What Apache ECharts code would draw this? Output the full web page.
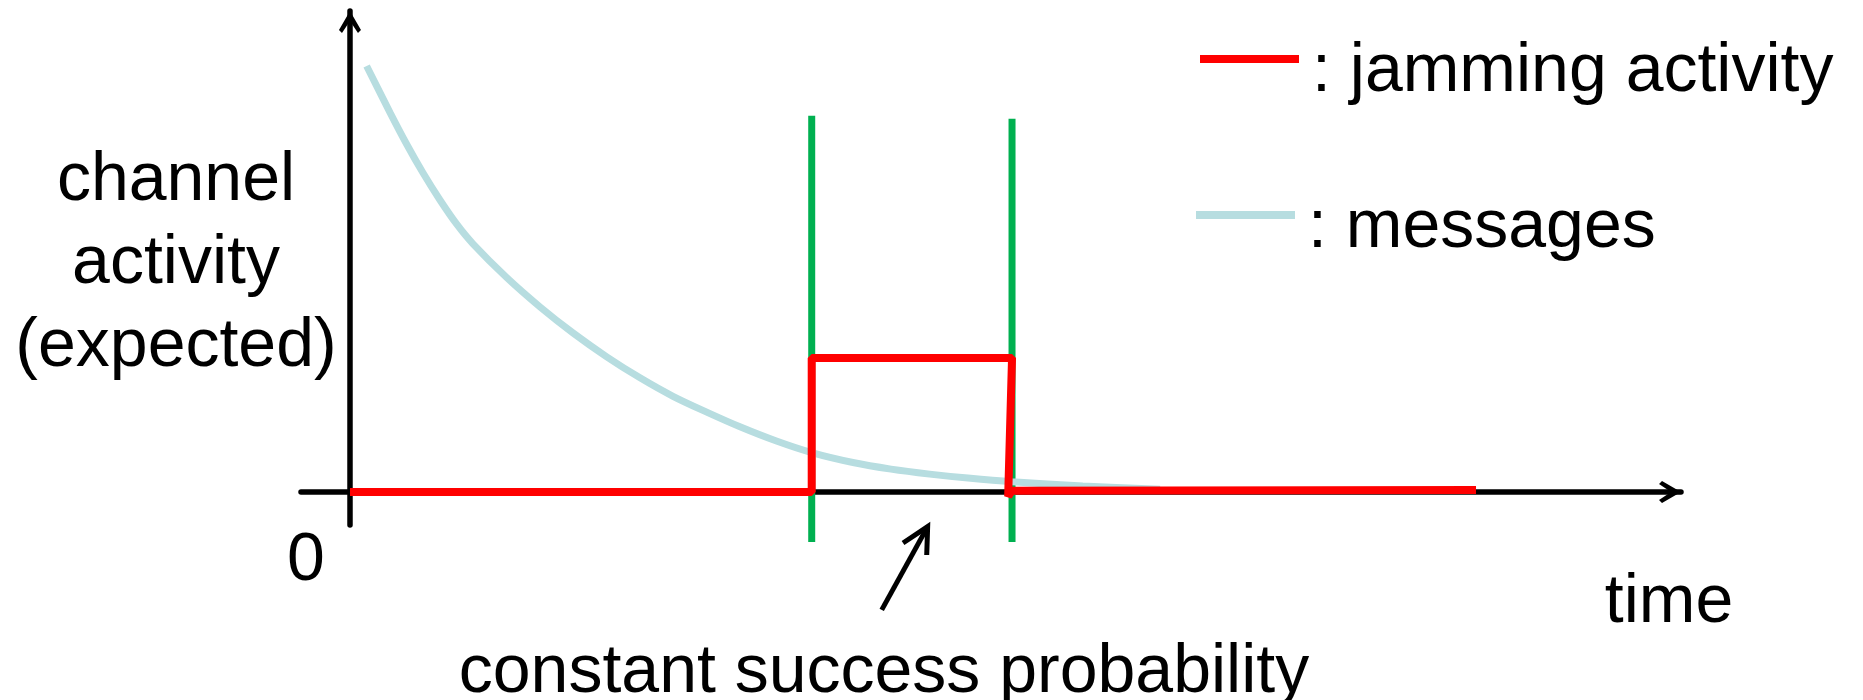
<!DOCTYPE html>
<html>
<head>
<meta charset="utf-8">
<script src="https://cdn.jsdelivr.net/npm/echarts@6/dist/echarts.min.js"></script>
<style>
html,body{margin:0;padding:0;background:#fff;}
#chart{width:1863px;height:700px;}
</style>
</head>
<body>
<div id="chart"></div>
<script>
// ---- data (time units, activity units) ----
const messagesData = [
  [1.25, 88.57], [3.01, 78.88], [4.26, 72.29], [5.48, 66.36], [6.76, 60.71], [8.02, 55.68],
  [9.24, 51.60], [11.77, 44.59], [14.27, 38.50], [16.75, 33.08], [19.29, 28.11], [21.79, 23.74],
  [24.27, 19.90], [26.80, 16.61], [29.30, 13.56], [32.04, 10.60], [34.69, 8.19], [37.79, 6.13],
  [40.65, 4.76], [43.55, 3.72], [46.43, 2.89], [49.74, 2.12], [55.05, 1.25], [60.86, 0.58]
];
const jammingData = [
  [0, 0], [34.69, 0], [34.69, 27.86], [49.74, 27.86], [49.45, -0.9], [49.74, 0.25], [84.6, 0.42]
];
const windowStart = [[34.69, -10.4], [34.69, 78.2]];
const windowEnd = [[49.74, -10.4], [49.74, 77.6]];
const pointerShaft = [[39.95, -24.5], [43.40, -7.2]];
const pointerHead = [[41.55, -10.6], [43.40, -7.2], [43.33, -13.1]];

const yLabelLines = ['channel', 'activity', '(expected)'];
const originLabel = '0';
const xLabel = 'time';
const annotation = 'constant success probability';
const legendNames = ['jamming activity', 'messages'];

const FONT = "'Liberation Sans', Arial, sans-serif";
const chevron = 'path://M11,0 L22,19 L19,22 L11,10 L3,22 L0,19 Z';

const chart = echarts.init(document.getElementById('chart'), null, {renderer: 'canvas'});
const axisLineBase = {
  show: true,
  onZero: true,
  symbol: ['none', chevron],
  symbolSize: [22, 22],
  symbolOffset: [0, -11],
  lineStyle: {color: '#000', width: 5.5}
};
const legendText = {
  fontFamily: FONT, fontSize: 68, color: '#000',
  rich: {t: {fontFamily: FONT, fontSize: 68, color: '#000', lineHeight: 68, padding: [26, 0, 0, 8]}}
};
chart.setOption({
  animation: false,
  backgroundColor: '#fff',
  grid: {left: 301, top: 11, width: 1380, height: 514, containLabel: false},
  xAxis: {
    type: 'value', min: -3.68, max: 100,
    axisLine: axisLineBase,
    axisTick: {show: false}, axisLabel: {show: false}, splitLine: {show: false}
  },
  yAxis: {
    type: 'value', min: -6.86, max: 100,
    axisLine: axisLineBase,
    axisTick: {show: false}, axisLabel: {show: false}, splitLine: {show: false}
  },
  legend: [
    {
      data: [legendNames[0]], left: 1200, top: 12, padding: 0,
      icon: 'rect', itemWidth: 99, itemHeight: 8,
      formatter: '{t|: {name}}', textStyle: legendText, selectedMode: false
    },
    {
      data: [legendNames[1]], left: 1196, top: 168, padding: 0,
      icon: 'rect', itemWidth: 99, itemHeight: 8,
      formatter: '{t|: {name}}', textStyle: legendText, selectedMode: false
    }
  ],
  series: [
    {
      name: legendNames[1], type: 'line', data: messagesData, smooth: 0.3,
      showSymbol: false, clip: false, z: 3,
      lineStyle: {color: '#b7dde0', width: 7, cap: 'butt'},
      itemStyle: {color: '#b7dde0'}
    },
    {
      name: 'window start', type: 'line', data: windowStart, showSymbol: false, clip: false, z: 2,
      lineStyle: {color: '#00b050', width: 7}, itemStyle: {color: '#00b050'}
    },
    {
      name: 'window end', type: 'line', data: windowEnd, showSymbol: false, clip: false, z: 2,
      lineStyle: {color: '#00b050', width: 7}, itemStyle: {color: '#00b050'}
    },
    {
      name: legendNames[0], type: 'line', data: jammingData, showSymbol: false, clip: false, z: 4,
      lineStyle: {color: '#ff0000', width: 8}, itemStyle: {color: '#ff0000'}
    },
    {
      name: 'pointer shaft', type: 'line', data: pointerShaft, showSymbol: false, clip: false, z: 4,
      lineStyle: {color: '#000', width: 5}, itemStyle: {color: '#000'}
    },
    {
      name: 'pointer head', type: 'line', data: pointerHead, showSymbol: false, clip: false, z: 4,
      lineStyle: {color: '#000', width: 5, join: 'miter'}, itemStyle: {color: '#000'}
    }
  ],
  graphic: [
    {type: 'text', x: 176, y: 264, style: {text: yLabelLines.join('\n'), font: '68px ' + FONT, fill: '#000', align: 'center', verticalAlign: 'middle', lineHeight: 83}},
    {type: 'text', x: 306, y: 561, style: {text: originLabel, font: '68px ' + FONT, fill: '#000', align: 'center', verticalAlign: 'middle'}},
    {type: 'text', x: 1669, y: 603, style: {text: xLabel, font: '68px ' + FONT, fill: '#000', align: 'center', verticalAlign: 'middle'}},
    {type: 'text', x: 884, y: 673, style: {text: annotation, font: '68px ' + FONT, fill: '#000', align: 'center', verticalAlign: 'middle'}}
  ]
});
</script>
</body>
</html>
